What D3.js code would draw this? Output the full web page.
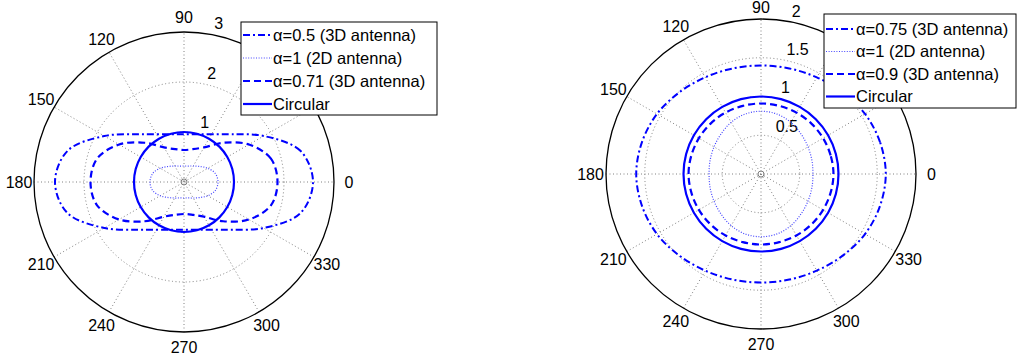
<!DOCTYPE html>
<html>
<head>
<meta charset="utf-8">
<script src="https://cdn.jsdelivr.net/npm/d3@7"></script>
<style>
  body { margin: 0; background: #fff; }
  svg text { font-family: "Liberation Sans", Arial, sans-serif; font-size: 16px; fill: #000; }
  svg .legend text { font-size: 16.5px; }
</style>
</head>
<body>
<div id="chart"></div>
<script>
"use strict"

// ---------- data ----------
// sample angles in degrees, 0 = east, counter-clockwise
const angles = d3.range(0, 360, 15);
const angleTicks = [0, 30, 60, 90, 120, 150, 180, 210, 240, 270, 300, 330];
// labels covered by the legend box in the reference
const hiddenAngleTicks = [30, 60];

// left plot
const leftRingTicks = [1, 2, 3];
const leftNames = ["\u03b1=0.5 (3D antenna)", "\u03b1=1 (2D antenna)", "\u03b1=0.71 (3D antenna)", "Circular"];
const leftAlpha05 = [2.58, 2.41, 1.84, 1.35, 1.10, 0.99, 0.955, 0.99, 1.10, 1.35, 1.84, 2.41,
                     2.58, 2.41, 1.84, 1.35, 1.10, 0.99, 0.955, 0.99, 1.10, 1.35, 1.84, 2.41];
const leftAlpha1 =  [0.68, 0.65, 0.55, 0.44, 0.37, 0.33, 0.32, 0.33, 0.37, 0.44, 0.55, 0.65,
                     0.68, 0.65, 0.55, 0.44, 0.37, 0.33, 0.32, 0.33, 0.37, 0.44, 0.55, 0.65];
const leftAlpha071 = [1.87, 1.80, 1.50, 1.11, 0.80, 0.68, 0.64, 0.68, 0.80, 1.11, 1.50, 1.80,
                      1.87, 1.80, 1.50, 1.11, 0.80, 0.68, 0.64, 0.68, 0.80, 1.11, 1.50, 1.80];
const leftCircular = [1, 1, 1, 1, 1, 1, 1, 1, 1, 1, 1, 1, 1, 1, 1, 1, 1, 1, 1, 1, 1, 1, 1, 1];

// right plot
const rightRingTicks = [0.5, 1, 1.5, 2];
const rightNames = ["\u03b1=0.75 (3D antenna)", "\u03b1=1 (2D antenna)", "\u03b1=0.9 (3D antenna)", "Circular"];
const rightAlpha075 = [1.61, 1.59, 1.55, 1.49, 1.44, 1.41, 1.40, 1.41, 1.44, 1.49, 1.55, 1.59,
                       1.61, 1.59, 1.55, 1.49, 1.44, 1.41, 1.40, 1.41, 1.44, 1.49, 1.55, 1.59];
const rightAlpha1 =  [0.67, 0.68, 0.70, 0.73, 0.77, 0.80, 0.81, 0.80, 0.77, 0.73, 0.70, 0.68,
                      0.67, 0.68, 0.70, 0.73, 0.77, 0.80, 0.81, 0.80, 0.77, 0.73, 0.70, 0.68];
const rightAlpha09 = [0.935, 0.93, 0.925, 0.92, 0.915, 0.91, 0.91, 0.91, 0.915, 0.92, 0.925, 0.93,
                      0.935, 0.93, 0.925, 0.92, 0.915, 0.91, 0.91, 0.91, 0.915, 0.92, 0.925, 0.93];
const rightCircular = [1, 1, 1, 1, 1, 1, 1, 1, 1, 1, 1, 1, 1, 1, 1, 1, 1, 1, 1, 1, 1, 1, 1, 1];

// ---------- styles ----------
const blue = "#0000ff";
const styles = [
    {dash: "7,3,2,3", width: 2, color: blue},       // dash-dot
    {dash: "1,1.6", width: 1.2, color: "#4646ff"},  // dotted
    {dash: "7,4", width: 2.2, color: blue},         // dashed
    {dash: null, width: 2.2, color: blue}           // solid
];
const gridDash = "1,2.5";

const W = 1018, H = 360;
const svg = d3.select("#chart").append("svg")
    .attr("width", W)
    .attr("height", H);

const rad = deg => deg * Math.PI / 180;

function drawPolar(cfg) {
    const g = svg.append("g").attr("transform", `translate(${cfg.cx},${cfg.cy})`);
    const rmax = cfg.ticks[cfg.ticks.length - 1];
    const r = d3.scaleLinear().domain([0, rmax]).range([0, cfg.R]);

    g.append("circle").attr("r", r(rmax)).attr("fill", "#fff");

    // dotted rings
    g.selectAll("circle.ring")
        .data(cfg.ticks.slice(0, -1))
        .join("circle")
        .attr("class", "ring")
        .attr("r", d => r(d))
        .attr("fill", "none")
        .attr("stroke", "#808080")
        .attr("stroke-width", 1)
        .attr("stroke-dasharray", gridDash);

    // spokes (full diameters)
    g.selectAll("line.spoke")
        .data(angleTicks.slice(0, 6))
        .join("line")
        .attr("class", "spoke")
        .attr("x1", d => -r(rmax) * Math.cos(rad(d)))
        .attr("y1", d => r(rmax) * Math.sin(rad(d)))
        .attr("x2", d => r(rmax) * Math.cos(rad(d)))
        .attr("y2", d => -r(rmax) * Math.sin(rad(d)))
        .attr("stroke", "#808080")
        .attr("stroke-width", 1)
        .attr("stroke-dasharray", gridDash);

    g.append("circle").attr("r", 3).attr("fill", "none")
        .attr("stroke", "#808080").attr("stroke-width", 1);

    // outer circle
    g.append("circle").attr("r", r(rmax)).attr("fill", "none")
        .attr("stroke", "#000").attr("stroke-width", 1.3);

    // angle labels
    g.selectAll("text.ang")
        .data(angleTicks.filter(d => !hiddenAngleTicks.includes(d)))
        .join("text")
        .attr("class", "ang")
        .attr("x", d => 1.1 * r(rmax) * Math.cos(rad(d)))
        .attr("y", d => Math.max(-1.1 * r(rmax) * Math.sin(rad(d)), 7 - cfg.cy))
        .attr("dy", "0.36em")
        .attr("text-anchor", "middle")
        .text(d => d);

    // ring labels at 82 degrees
    const step = cfg.ticks[0];
    g.selectAll("text.rlab")
        .data(cfg.ticks)
        .join("text")
        .attr("class", "rlab")
        .attr("x", d => r(d + step / 20) * Math.cos(rad(82)) + 9)
        .attr("y", d => -r(d + step / 20) * Math.sin(rad(82)) - 2)
        .text(d => d);

    // series
    const line = d3.lineRadial()
        .angle(d => rad(90 - d.a))
        .radius(d => r(d.v))
        .curve(d3.curveCatmullRomClosed.alpha(0.5));

    cfg.series.forEach((vals, i) => {
        const pts = angles.map((a, k) => ({a: a, v: vals[k]}));
        const st = styles[i];
        g.append("path")
            .attr("d", line(pts))
            .attr("fill", "none")
            .attr("stroke", st.color)
            .attr("stroke-width", st.width)
            .attr("stroke-dasharray", st.dash);
    });

    // legend
    const lg = svg.append("g")
        .attr("class", "legend")
        .attr("transform", `translate(${cfg.legend.x},${cfg.legend.y})`);
    lg.append("rect")
        .attr("width", cfg.legend.w)
        .attr("height", cfg.legend.h)
        .attr("fill", "#fff")
        .attr("stroke", "#000")
        .attr("stroke-width", 1);
    cfg.names.forEach((name, i) => {
        const y = cfg.legend.top + i * cfg.legend.gap;
        const st = styles[i];
        lg.append("line")
            .attr("x1", 2).attr("x2", 31)
            .attr("y1", y).attr("y2", y)
            .attr("stroke", st.color)
            .attr("stroke-width", st.width)
            .attr("stroke-dasharray", st.dash);
        lg.append("text")
            .attr("x", 32)
            .attr("y", y)
            .attr("dy", "0.36em")
            .text(name);
    });
}

drawPolar({
    cx: 184, cy: 182, R: 150,
    ticks: leftRingTicks,
    series: [leftAlpha05, leftAlpha1, leftAlpha071, leftCircular],
    names: leftNames,
    legend: {x: 241, y: 22, w: 196, h: 93, top: 13, gap: 23}
});

drawPolar({
    cx: 761, cy: 174, R: 155,
    ticks: rightRingTicks,
    series: [rightAlpha075, rightAlpha1, rightAlpha09, rightCircular],
    names: rightNames,
    legend: {x: 824, y: 14, w: 192, h: 94, top: 15, gap: 22.5}
});
</script>
</body>
</html>
